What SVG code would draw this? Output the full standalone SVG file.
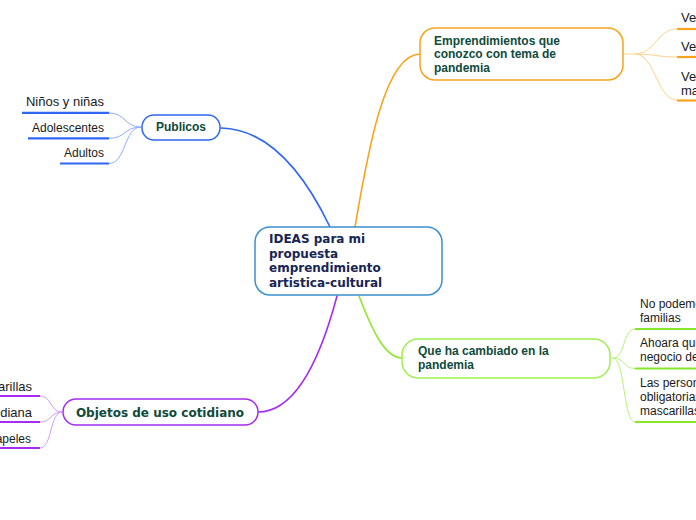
<svg xmlns="http://www.w3.org/2000/svg" width="696" height="520" viewBox="0 0 696 520">
<style>
.node{fill:#fff;stroke-width:1.5}
.nt{font-family:"Liberation Sans",Arial,sans-serif;font-weight:bold;font-size:12px;fill:#0f4a3a}
.ct{font-family:"DejaVu Sans",Verdana,sans-serif;font-weight:bold;font-size:12px;fill:#172554}
.ot{font-family:"DejaVu Sans",Verdana,sans-serif;font-weight:bold;font-size:12px;fill:#0f4a3a}
.lt{font-family:"Liberation Sans",Arial,sans-serif;font-size:12px;fill:#1a1a1a}
.main{fill:none;stroke-width:1.6;stroke-linecap:round}
.sub{fill:none;stroke-width:1}
.ul{stroke-width:2.2;fill:none}
</style>
<rect width="696" height="520" fill="#fff"/>
<g id="connectors">
<path class="main" stroke="#2f66f4" d="M330,227 C305,175 270,129 221,128"/>
<path class="main" stroke="#f7a31c" d="M355,227 C368,150 385,54 420,54"/>
<path class="main" stroke="#8fe82c" d="M359,296 C372,330 385,358 402,358"/>
<path class="main" stroke="#a52cf2" d="M337,296 C320,360 295,412 258,412"/>
<g stroke="#8eaeff" class="sub">
<path d="M141,127 C124,127 126,113 109,113"/>
<path d="M141,127 C124,127 126,138.3 109,138.3"/>
<path d="M141,127 C124,127 126,163.5 109,163.5"/>
</g>
<g stroke="#fdd38c" class="sub">
<path d="M623,54 L635,54"/>
<path d="M635,54 C655,54 657,29 677,29"/>
<path d="M635,54 C655,54 657,57 677,57"/>
<path d="M635,54 C655,54 657,100 677,100"/>
</g>
<g stroke="#b8f57a" class="sub">
<path d="M610,358 L613,358"/>
<path d="M613,358 C625,358 623,329 635,329"/>
<path d="M613,358 C625,358 623,368.5 635,368.5"/>
<path d="M613,358 C625,358 623,422 635,422"/>
</g>
<g stroke="#d49cf8" class="sub">
<path d="M62,412 C50,412 52,396 40,396"/>
<path d="M62,412 C50,412 52,422 40,422"/>
<path d="M62,412 C50,412 52,448 40,448"/>
</g>
</g>
<g id="central">
<rect class="node" x="255" y="227" width="187" height="68" rx="15" stroke="#3a8fd2"/>
<text class="ct" x="269" y="243">IDEAS para mi</text>
<text class="ct" x="269" y="257.5">propuesta</text>
<text class="ct" x="269" y="272">emprendimiento</text>
<text class="ct" x="269" y="286.5">artistica-cultural</text>
</g>
<g id="publicos">
<rect class="node" x="142" y="115" width="78" height="25" rx="12" stroke="#2f66f4"/>
<text class="nt" x="181" y="131" text-anchor="middle">Publicos</text>
</g>
<g id="leaf-ninos">
<text class="lt" x="104" y="106" text-anchor="end" style="font-size:13px">Niños y niñas</text>
<path class="ul" stroke="#2f66f4" d="M22,112.8 H109"/>
</g>
<g id="leaf-adolescentes">
<text class="lt" x="104" y="132" text-anchor="end">Adolescentes</text>
<path class="ul" stroke="#2f66f4" d="M28,138.3 H109"/>
</g>
<g id="leaf-adultos">
<text class="lt" x="104" y="157" text-anchor="end">Adultos</text>
<path class="ul" stroke="#2f66f4" d="M60,163.5 H109"/>
</g>
<g id="emprendimientos">
<rect class="node" x="420" y="28" width="203" height="52" rx="15" stroke="#f7a31c"/>
<text class="nt" x="434" y="44.5">Emprendimientos que</text>
<text class="nt" x="434" y="58">conozco con tema de</text>
<text class="nt" x="434" y="72">pandemia</text>
</g>
<g id="leaf-ve1">
<text class="lt" x="681" y="22" style="font-size:13px">Ve</text>
<path class="ul" stroke="#f7a31c" d="M677,29 H696"/>
</g>
<g id="leaf-ve2">
<text class="lt" x="681" y="50.5" style="font-size:13px">Ve</text>
<path class="ul" stroke="#f7a31c" d="M677,57 H696"/>
</g>
<g id="leaf-ve3">
<text class="lt" x="681" y="81" style="font-size:13px">Ve</text>
<text class="lt" x="681" y="95" style="font-size:13px">ma</text>
<path class="ul" stroke="#f7a31c" d="M677,100.5 H696"/>
</g>
<g id="cambiado">
<rect class="node" x="402" y="339" width="208" height="39" rx="16" stroke="#9ef04e"/>
<text class="nt" x="418" y="355">Que ha cambiado en la</text>
<text class="nt" x="418" y="369">pandemia</text>
</g>
<g id="leaf-nopodemos">
<text class="lt" x="640" y="308">No podemos</text>
<text class="lt" x="640" y="322">familias</text>
<path class="ul" stroke="#86e62a" d="M635,329 H696"/>
</g>
<g id="leaf-ahoara">
<text class="lt" x="640" y="347">Ahoara quien</text>
<text class="lt" x="640" y="361">negocio de</text>
<path class="ul" stroke="#86e62a" d="M635,368.5 H696"/>
</g>
<g id="leaf-personas">
<text class="lt" x="640" y="387">Las personas</text>
<text class="lt" x="640" y="401">obligatoriamente</text>
<text class="lt" x="640" y="415">mascarillas</text>
<path class="ul" stroke="#86e62a" d="M635,422 H696"/>
</g>
<g id="objetos">
<rect class="node" x="63" y="399" width="195" height="26" rx="13" stroke="#a52cf2"/>
<text class="ot" x="160" y="416.5" text-anchor="middle">Objetos de uso cotidiano</text>
</g>
<g id="leaf-mascarillas">
<text class="lt" x="32" y="391" text-anchor="end" style="font-size:13px">Mascarillas</text>
<path class="ul" stroke="#a52cf2" d="M0,396 H40"/>
</g>
<g id="leaf-cotidiana">
<text class="lt" x="32" y="417" text-anchor="end" style="font-size:13px">Cotidiana</text>
<path class="ul" stroke="#a52cf2" d="M0,422 H40"/>
</g>
<g id="leaf-papeles">
<text class="lt" x="31" y="442.5" text-anchor="end">Papeles</text>
<path class="ul" stroke="#a52cf2" d="M0,448 H40"/>
</g>
</svg>
